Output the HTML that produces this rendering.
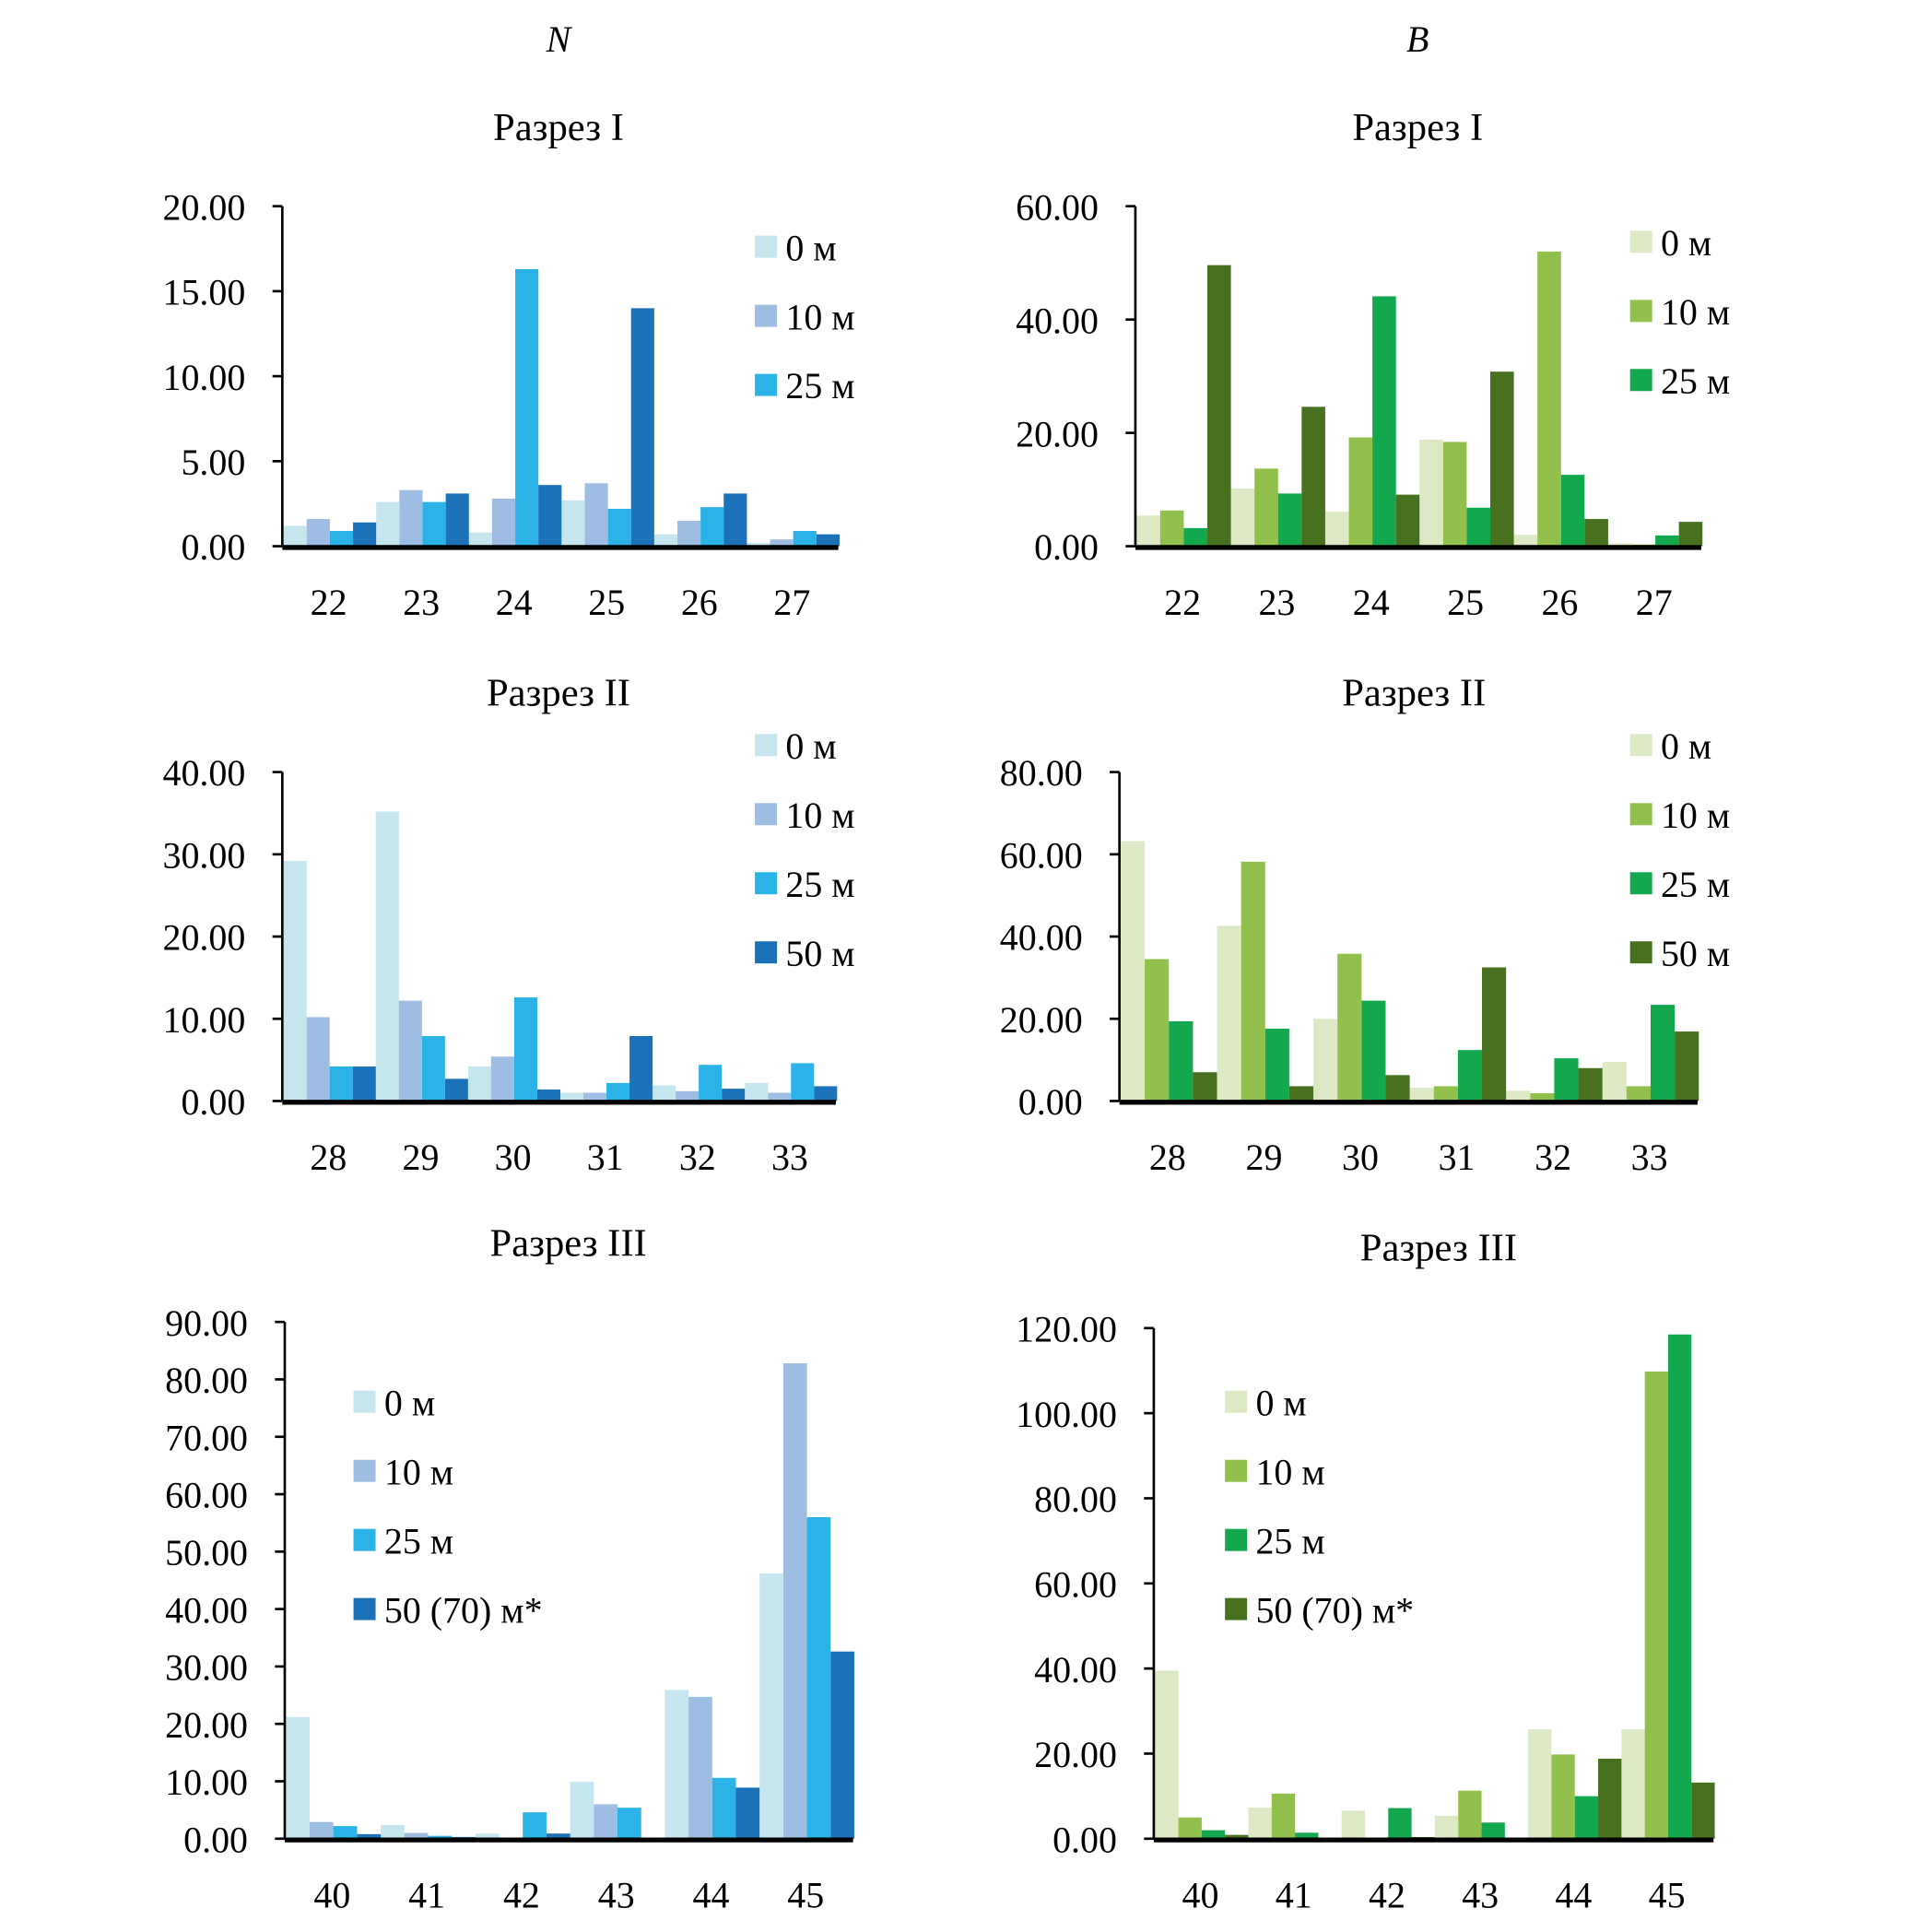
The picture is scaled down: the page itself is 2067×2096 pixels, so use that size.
<!DOCTYPE html>
<html><head><meta charset="utf-8"><style>
html,body{margin:0;padding:0;background:#fff;}
svg{display:block;}
text{font-family:"Liberation Serif",serif;fill:#000;}
</style></head><body>
<svg id="root" width="2067" height="2096" viewBox="0 0 1552 1574" preserveAspectRatio="none" xmlns="http://www.w3.org/2000/svg">
<text x="455" y="42" font-size="30" font-style="italic" text-anchor="middle">N</text>
<text x="1155" y="42" font-size="30" font-style="italic" text-anchor="middle">B</text>
</svg>
<script>
const catsI=["22","23","24","25","26","27"];
const catsII=["28","29","30","31","32","33"];
const catsIII=["40","41","42","43","44","45"];
const legend3=["0 м","10 м","25 м"];
const legend4=["0 м","10 м","25 м","50 м"];
const legend4s=["0 м","10 м","25 м","50 (70) м*"];
const blues=["#c6e6ef","#9dbde2","#2bb3e8","#1c72b8"];
const greens=["#dde8c4","#92c04c","#14a84e","#47711f"];
// N, Разрез I (series: 0,10,25,50 м per station)
const nI_0=[1.2,2.6,0.8,2.7,0.7,0.2];
const nI_10=[1.6,3.3,2.8,3.7,1.5,0.4];
const nI_25=[0.9,2.6,16.3,2.2,2.3,0.9];
const nI_50=[1.4,3.1,3.6,14.0,3.1,0.7];
const nI_ticks=["0.00","5.00","10.00","15.00","20.00"];
// B, Разрез I
const bI_0=[5.4,10.2,6.1,18.8,2.0,0.5];
const bI_10=[6.3,13.7,19.2,18.4,52.0,0.3];
const bI_25=[3.2,9.3,44.1,6.8,12.6,1.9];
const bI_50=[49.6,24.6,9.1,30.8,4.8,4.3];
const bI_ticks=["0.00","20.00","40.00","60.00"];
// N, Разрез II
const nII_0=[29.2,35.2,4.2,1.0,1.9,2.2];
const nII_10=[10.2,12.2,5.4,1.0,1.2,1.0];
const nII_25=[4.2,7.9,12.6,2.2,4.4,4.6];
const nII_50=[4.2,2.7,1.4,7.9,1.5,1.8];
const nII_ticks=["0.00","10.00","20.00","30.00","40.00"];
// B, Разрез II
const bII_0=[63.2,42.6,20.0,3.2,2.5,9.5];
const bII_10=[34.5,58.2,35.8,3.6,1.9,3.6];
const bII_25=[19.4,17.6,24.4,12.4,10.4,23.4];
const bII_50=[7.0,3.6,6.3,32.5,8.0,16.9];
const bII_ticks=["0.00","20.00","40.00","60.00","80.00"];
// N, Разрез III
const nIII_0=[21.2,2.4,0.9,9.9,25.9,46.2];
const nIII_10=[2.9,1.0,0.2,6.0,24.7,82.8];
const nIII_25=[2.2,0.5,4.6,5.4,10.6,56.0];
const nIII_50=[0.8,0.3,0.9,0,8.9,32.6];
const nIII_ticks=["0.00","10.00","20.00","30.00","40.00","50.00","60.00","70.00","80.00","90.00"];
// B, Разрез III
const bIII_0=[39.5,7.3,6.6,5.4,25.7,25.7];
const bIII_10=[5.0,10.6,0,11.3,19.8,109.8];
const bIII_25=[2.0,1.4,7.2,3.8,10.0,118.5];
const bIII_50=[0.9,0,0.4,0,18.8,13.2];
const bIII_ticks=["0.00","20.00","40.00","60.00","80.00","100.00","120.00"];

const NS="http://www.w3.org/2000/svg";
const root=document.getElementById('root');
function mk(tag,attrs,parent,txt){const e=document.createElementNS(NS,tag);for(const k in attrs)e.setAttribute(k,attrs[k]);if(txt!==undefined)e.textContent=txt;parent.appendChild(e);return e;}

function chart(o){
  const g=mk('g',{},root);
  
  
  const maxV=parseFloat(o.ticks[o.ticks.length-1]);
  const y=v=>o.y0-(v/maxV)*(o.y0-o.yTop);
  const gw=(o.x1-o.ax)/o.cats.length, bw=gw/4;
  const t=mk('text',{x:o.tx,y:o.ty,'font-size':32,'text-anchor':'middle'},g,o.title);
  
  
  o.ticks.forEach(tk=>{
    const v=parseFloat(tk),yy=y(v);
    const l=mk('line',{x1:o.ax-8,x2:o.ax,y1:yy,y2:yy,stroke:'#000','stroke-width':2},g);
    
    
    const tl=mk('text',{x:o.ax-30,y:yy+11,'font-size':30,'text-anchor':'end'},g,tk);
    
    
  });
  o.series.forEach((s,si)=>{
    s.forEach((v,ci)=>{
      if(v<=0)return;
      const x=o.ax+1+ci*gw+si*bw;
      const r=mk('rect',{x:x,y:y(v),width:bw,height:o.y0-y(v),fill:o.colors[si]},g);
      
      
    });
  });
  o.cats.forEach((c,ci)=>{
    const cl=mk('text',{x:o.ax+ci*gw+gw/2,y:o.y0+56,'font-size':30,'text-anchor':'middle'},g,c);
    
    
  });
  const ya=mk('line',{x1:o.ax,x2:o.ax,y1:o.yTop,y2:o.y0,stroke:'#000','stroke-width':2},g);
  
  
  const xa=mk('line',{x1:o.ax,x2:o.x1,y1:o.y0+1,y2:o.y0+1,stroke:'#000','stroke-width':4},g);
  
  
  o.legend.forEach((lab,li)=>{
    const ly=o.ly+li*56.3;
    const sq=mk('rect',{x:o.lx,y:ly-9,width:18,height:18,fill:o.colors[li]},g);
    
    
    const lt=mk('text',{x:o.lx+25,y:ly+11,'font-size':30},g,lab);
    
    
  });
}
chart({name:'chart-n-razrez-1',title:'Разрез I',tx:455,ty:114,ax:230,x1:683,yTop:168,y0:445,cats:catsI,ticks:nI_ticks,series:[nI_0,nI_10,nI_25,nI_50],colors:blues,legend:legend3,lx:615,ly:201});
chart({name:'chart-b-razrez-1',title:'Разрез I',tx:1155,ty:114,ax:925,x1:1386,yTop:168,y0:445,cats:catsI,ticks:bI_ticks,series:[bI_0,bI_10,bI_25,bI_50],colors:greens,legend:legend3,lx:1328,ly:197});
chart({name:'chart-n-razrez-2',title:'Разрез II',tx:455,ty:575,ax:230,x1:681,yTop:629,y0:897,cats:catsII,ticks:nII_ticks,series:[nII_0,nII_10,nII_25,nII_50],colors:blues,legend:legend4,lx:615,ly:607});
chart({name:'chart-b-razrez-2',title:'Разрез II',tx:1152,ty:575,ax:912,x1:1383,yTop:629,y0:897,cats:catsII,ticks:bII_ticks,series:[bII_0,bII_10,bII_25,bII_50],colors:greens,legend:legend4,lx:1328,ly:607});
chart({name:'chart-n-razrez-3',title:'Разрез III',tx:463,ty:1023,ax:232,x1:695,yTop:1077,y0:1498,cats:catsIII,ticks:nIII_ticks,series:[nIII_0,nIII_10,nIII_25,nIII_50],colors:blues,legend:legend4s,lx:288,ly:1142});
chart({name:'chart-b-razrez-3',title:'Разрез III',tx:1172,ty:1027,ax:940,x1:1396,yTop:1082,y0:1498,cats:catsIII,ticks:bIII_ticks,series:[bIII_0,bIII_10,bIII_25,bIII_50],colors:greens,legend:legend4s,lx:998,ly:1142});
</script>
</body></html>
